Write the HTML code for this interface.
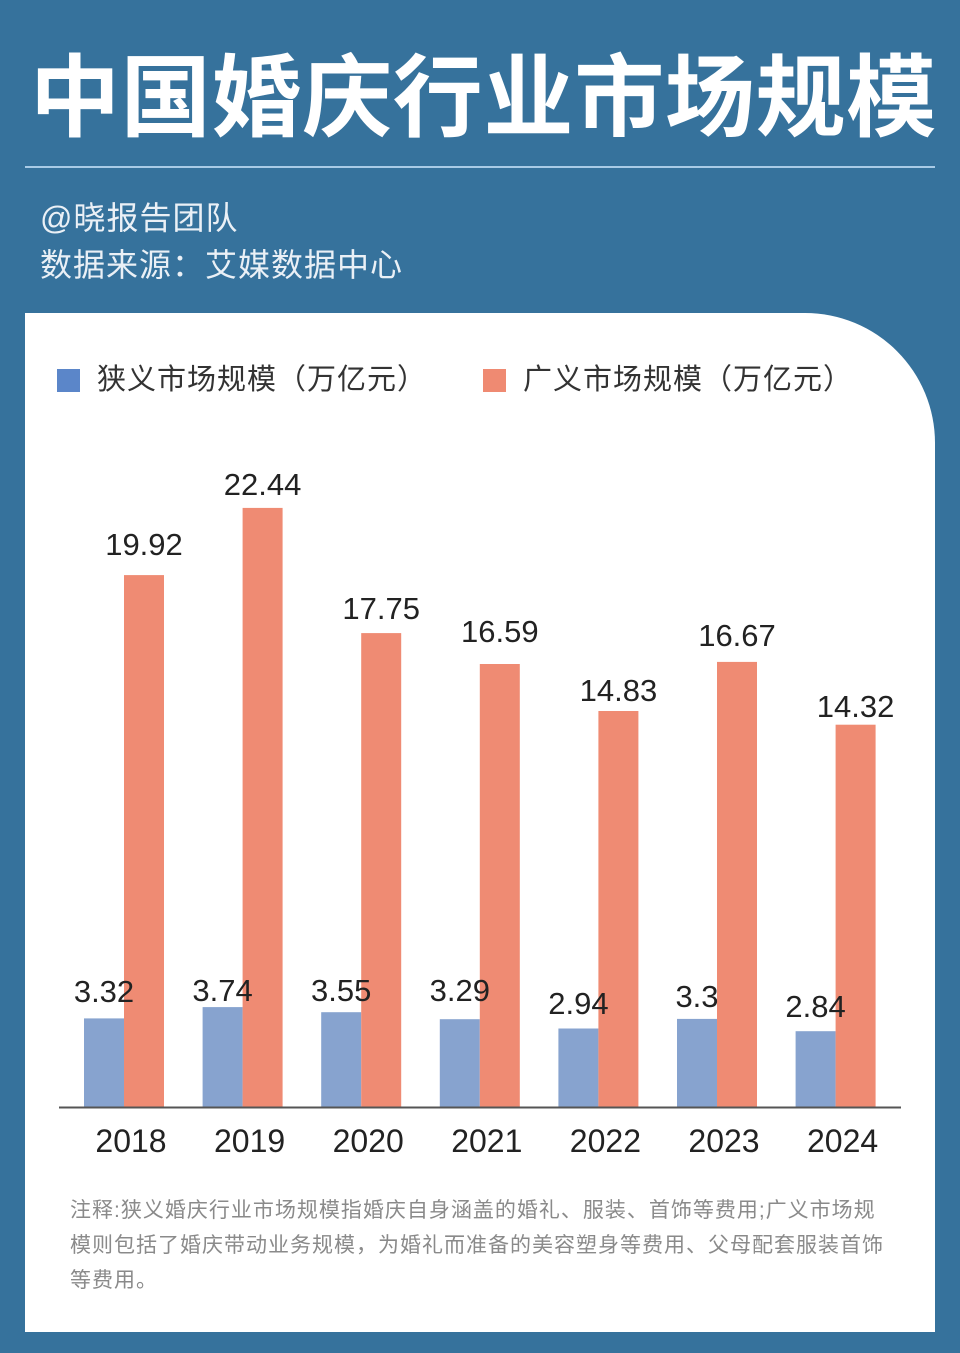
<!DOCTYPE html>
<html><head><meta charset="utf-8"><style>
body{margin:0;width:960px;height:1353px;background:#36729c;position:relative;overflow:hidden;font-family:"Liberation Sans","Noto Sans CJK SC",sans-serif;}
.t{position:absolute;left:30px;top:44px;font-size:90px;font-weight:bold;color:#fff;white-space:nowrap;line-height:110px;letter-spacing:0.7px}
.line{position:absolute;left:25px;top:166px;width:910px;height:2px;background:#a9cbe6}
.s{position:absolute;left:40px;font-size:32px;letter-spacing:1px;color:#eaf0f6;line-height:36px;white-space:nowrap}
.card{position:absolute;left:25px;top:313px;width:910px;height:1019px;background:#fff;border-top-right-radius:130px}
.lg{position:absolute;font-size:29px;letter-spacing:1px;color:#333;line-height:34px;white-space:nowrap}
.sq{position:absolute;width:23px;height:23px}
.note{position:absolute;left:70px;top:1193px;width:822px;font-size:21px;letter-spacing:1px;line-height:35px;color:#8a8a8a}
</style></head><body>
<div class="t">中国婚庆行业市场规模</div>
<div class="line"></div>
<div class="s" style="top:200px">@晓报告团队</div>
<div class="s" style="top:247px">数据来源：艾媒数据中心</div>
<div class="card"></div>
<div class="sq" style="left:57px;top:369px;background:#5b86c9"></div>
<div class="lg" style="left:97px;top:363px">狭义市场规模（万亿元）</div>
<div class="sq" style="left:483px;top:369px;background:#ef8a72"></div>
<div class="lg" style="left:523px;top:363px">广义市场规模（万亿元）</div>
<svg style="position:absolute;left:0;top:0" width="960" height="1353" font-family="Liberation Sans, sans-serif">
<g fill="#87a3cf">
<rect x="84" y="1018.4" width="40" height="88.6"/>
<rect x="202.6" y="1007.1" width="40" height="99.9"/>
<rect x="321.2" y="1012.2" width="40" height="94.8"/>
<rect x="439.8" y="1019.2" width="40" height="87.8"/>
<rect x="558.4" y="1028.5" width="40" height="78.5"/>
<rect x="677" y="1018.9" width="40" height="88.1"/>
<rect x="795.6" y="1031.2" width="40" height="75.8"/>
</g>
<g fill="#ef8b73">
<rect x="124" y="575.1" width="40" height="531.9"/>
<rect x="242.6" y="507.9" width="40" height="599.1"/>
<rect x="361.2" y="633.1" width="40" height="473.9"/>
<rect x="479.8" y="664" width="40" height="443"/>
<rect x="598.4" y="711" width="40" height="396"/>
<rect x="717" y="661.9" width="40" height="445.1"/>
<rect x="835.6" y="724.7" width="40" height="382.3"/>
</g>
<g font-size="31" fill="#222" text-anchor="middle">
<text x="104" y="1002">3.32</text>
<text x="222.6" y="1001">3.74</text>
<text x="341.2" y="1001">3.55</text>
<text x="459.8" y="1001">3.29</text>
<text x="578.4" y="1014">2.94</text>
<text x="697" y="1007">3.3</text>
<text x="815.6" y="1017">2.84</text>
<text x="144" y="555">19.92</text>
<text x="262.6" y="495">22.44</text>
<text x="381.2" y="619">17.75</text>
<text x="499.8" y="642">16.59</text>
<text x="618.4" y="701">14.83</text>
<text x="737" y="646">16.67</text>
<text x="855.6" y="717">14.32</text>
</g>
<g font-size="32" fill="#222" text-anchor="middle">
<text x="131" y="1152">2018</text>
<text x="249.6" y="1152">2019</text>
<text x="368.2" y="1152">2020</text>
<text x="486.8" y="1152">2021</text>
<text x="605.4" y="1152">2022</text>
<text x="724" y="1152">2023</text>
<text x="842.6" y="1152">2024</text>
</g>
<line x1="59" y1="1107.5" x2="901" y2="1107.5" stroke="#555" stroke-width="2"/>
</svg>
<div class="note">注释:狭义婚庆行业市场规模指婚庆自身涵盖的婚礼、服装、首饰等费用;广义市场规模则包括了婚庆带动业务规模，为婚礼而准备的美容塑身等费用、父母配套服装首饰等费用。</div>
</body></html>
